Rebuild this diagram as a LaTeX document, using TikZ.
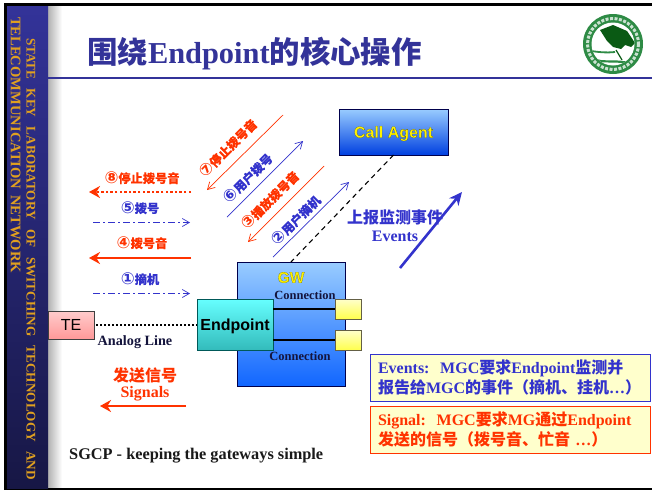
\documentclass[tikz,border=0pt]{standalone}
\usepackage{fontspec}
\setmainfont{Liberation Serif}
\setsansfont{Liberation Sans}
\newfontfamily\cjk{Noto Sans CJK SC}
\newfontfamily\circfont{DejaVu Sans}
\usetikzlibrary{arrows.meta}
\newcommand\zh[1]{{\cjk #1}}
\newcommand\lab[2]{{\circfont\fontsize{16.5}{14}\selectfont\raisebox{-0.8pt}{#1}}{\cjk\addfontfeature{FakeBold=0.15}#2}}
\newcommand\outl[1]{{\addfontfeature{FakeBold=0.15}\special{pdf:code 0.1 0.1 0 RG}#1}}
\newcommand\capmid[1]{\raisebox{-5.7pt}[6pt][6pt]{#1}}
\definecolor{bluetxt}{HTML}{3333CC}
\definecolor{redtxt}{HTML}{FF3300}
\definecolor{titleblue}{HTML}{333399}
\definecolor{sidegold}{HTML}{E0A020}
\definecolor{navytxt}{HTML}{14143C}
\definecolor{paleyellow}{HTML}{FFFFCC}
\definecolor{logogreen}{HTML}{2E8B45}
\definecolor{logodark}{HTML}{0A5A14}
\definecolor{skytop}{HTML}{99CCFF}
\definecolor{cabottom}{HTML}{0040E0}
\definecolor{gwbottom}{HTML}{1166FF}
\definecolor{eptop}{HTML}{66FFFF}
\definecolor{epbottom}{HTML}{33BBBB}
\tikzset{
  flatbox/.style={inner sep=0pt,outer sep=0pt,line width=0.9pt},
  lbl/.style={font=\bfseries\fontsize{12.2}{14}\selectfont,inner sep=0pt},
  redlbl/.style={lbl,text=redtxt},
  bluelbl/.style={lbl,text=bluetxt},
  thinred/.style={draw=redtxt,line width=0.7pt,-{Straight Barb[length=7pt,width=8pt]}},
  thinblue/.style={draw=bluetxt,line width=0.7pt,-{Straight Barb[length=7pt,width=8pt]}},
  dashblue/.style={thinblue,dash pattern=on 7pt off 3pt on 2pt off 3pt},
  thickred/.style={draw=redtxt,line width=2.2pt,-{Stealth[length=11pt,width=12pt]}},
  notebox/.style={flatbox,fill=paleyellow,line width=1pt,minimum width=280,minimum height=47,
    font=\bfseries\fontsize{16}{19.5}\selectfont,align=left,text width=264},
  portbox/.style={flatbox,draw=black!70!yellow,top color=paleyellow,bottom color=yellow!70!white,minimum width=26,minimum height=20},
  sidetxt/.style={rotate=-90,inner sep=0pt,text=sidegold},
  conn/.style={inner sep=0pt,text=navytxt,font=\bfseries\fontsize{12.5}{14}\selectfont},
}
\begin{document}
\begin{tikzpicture}[x=1pt,y=-1pt]
\useasboundingbox (0,0) rectangle (652,490);
\fill[white] (0,0) rectangle (652,490);
% frame
\node[flatbox,minimum width=14,minimum height=482,left color=black!30,right color=white] (shadow) at (55,247) {};
\fill[black] (4,3) rectangle (652,6);
\fill[black] (4,487.5) rectangle (652,490);
\fill[black] (4,3) rectangle (7,490);
\node[flatbox,minimum width=41,minimum height=482,top color=titleblue,bottom color=titleblue!45!black] (side) at (27.5,247) {};
\node[sidetxt,font=\bfseries\fontsize{13.2}{15}\selectfont] (sidea) at (31,259)
  {\hbox to 442pt{STATE\hfill KEY\hfill LABORATORY\hfill OF\hfill SWITCHING\hfill TECHNOLOGY\hfill AND}};
\node[sidetxt,font=\bfseries\fontsize{14.6}{15}\selectfont] (sideb) at (15.5,145)
  {\hbox to 256pt{TELECOMMUNICATION\hfill NETWORK}};
% title
\node[anchor=base west,inner sep=0pt,text=titleblue,font=\bfseries\fontsize{30.4}{34}\selectfont] (title) at (87,63)
  {\zh{围绕}Endpoint\zh{的核心操作}};
\draw[titleblue,line width=2.6pt] (48,78) -- (652,78);
% logo
\fill[logogreen] (613,44) circle (30);
\draw[white!75!logogreen,line width=3pt,dash pattern=on 3pt off 1.5pt] (613,44) circle (25.5);
\fill[white] (613,44) circle (21.5);
\begin{scope}
\clip (613,44) circle (21.5);
\fill[logodark] (600,30) -- (613,25) -- (627,31) -- (635,43) -- (631,47) -- (625,45) -- (621,49) -- (613,47) -- (607,41) -- cycle;
\draw[logogreen,line width=1.8pt] (591,51) .. controls (598,52) and (606,53) .. (615,52);
\draw[logogreen,line width=2.2pt] (591,55) .. controls (596,66) and (612,58) .. (632,64);
\draw[logodark,line width=1.2pt] (616,50) -- (622,60);
\end{scope}
% nodes
\node[flatbox,draw=black!70!blue,top color=skytop,bottom color=cabottom,minimum width=109,minimum height=46,
  text=yellow,font=\sffamily\bfseries\fontsize{16}{18}\selectfont] (ca) at (393.5,132) {\capmid{\outl{Call Agent}}};
\node[flatbox,draw=black!70!blue,top color=skytop,bottom color=gwbottom,minimum width=108,minimum height=124] (gw) at (291,324) {};
\node[inner sep=0pt,text=yellow,font=\sffamily\bfseries\fontsize{15.5}{18}\selectfont] (gwl) at (291,277.5) {\outl{GW}};
\node[conn] (c1) at (305,295) {Connection};
\node[conn] (c2) at (300,356) {Connection};
\node[portbox] (p1) at (348,309) {};
\node[portbox] (p2) at (348,340) {};
\node[flatbox,draw=teal!70!black,top color=eptop,bottom color=epbottom,minimum width=76,minimum height=51,
  font=\sffamily\bfseries\fontsize{16}{18}\selectfont] (ep) at (235,324.5) {\capmid{Endpoint}};
\draw[black,line width=1.4pt] (ep.east |- p1) -- (p1.west);
\draw[black,line width=1.4pt] (ep.east |- p2) -- (p2.west);
\node[flatbox,draw=black!75,top color=red!20!white,bottom color=red!40!white,minimum width=46,minimum height=28,
  font=\sffamily\fontsize{16}{18}\selectfont] (te) at (71,325) {TE};
\draw[black,line width=2pt,dash pattern=on 2pt off 2pt,shorten <=2pt] (te.east) -- (ep.west |- te.east);
\node[inner sep=0pt,text=navytxt,font=\bfseries\fontsize{14.2}{16}\selectfont] (al) at (135,342) {Analog Line};
\draw[black,line width=1.1pt,dash pattern=on 5pt off 4pt] (ca.south) -- (gw.north);
% left arrows
\coordinate (a8s) at (191,192); \coordinate (a8e) at (89,192);
\coordinate (a5s) at (93,222.5); \coordinate (a5e) at (190,222.5);
\coordinate (a4s) at (191,258); \coordinate (a4e) at (89,258);
\coordinate (a1s) at (93,293.5); \coordinate (a1e) at (190,293.5);
\draw[thickred,dash pattern=on 2.4pt off 2.2pt] (a8s) -- (a8e);
\draw[dashblue] (a5s) -- (a5e);
\draw[thickred] (a4s) -- (a4e);
\draw[dashblue] (a1s) -- (a1e);
\node[redlbl] (l8) at (142,178) {\lab{⑧}{停止拨号音}};
\node[bluelbl] (l5) at (140,208) {\lab{⑤}{拨号}};
\node[redlbl] (l4) at (142,243) {\lab{④}{拨号音}};
\node[bluelbl] (l1) at (140,279) {\lab{①}{摘机}};
% diagonal arrows
\coordinate (d7s) at (283,115); \coordinate (d7e) at (207,190);
\coordinate (d6s) at (227,217); \coordinate (d6e) at (303,141);
\coordinate (d3s) at (324,166); \coordinate (d3e) at (248,242);
\coordinate (d2s) at (273,257); \coordinate (d2e) at (349,182);
\draw[thinred] (d7s) -- (d7e);
\draw[thinblue] (d6s) -- (d6e);
\draw[thinred] (d3s) -- (d3e);
\draw[thinblue] (d2s) -- (d2e);
\node[redlbl,rotate=45] (l7) at (228,148) {\lab{⑦}{停止拨号音}};
\node[bluelbl,rotate=45] (l6) at (248,178) {\lab{⑥}{用户拨号}};
\node[redlbl,rotate=45] (l3) at (270,200) {\lab{③}{播放拨号音}};
\node[bluelbl,rotate=45] (l2) at (296,220) {\lab{②}{用户摘机}};
% events
\coordinate (evs) at (400,268); \coordinate (eve) at (462,192);
\draw[draw=bluetxt,line width=2.6pt,-{Stealth[length=13pt,width=12pt]}] (evs) -- (eve);
\node[inner sep=0pt,text=bluetxt,font=\bfseries\fontsize{16}{18}\selectfont] (ev1) at (395,217) {\zh{上报监测事件}};
\node[inner sep=0pt,text=bluetxt,font=\bfseries\fontsize{16}{18}\selectfont] (ev2) at (395,236) {Events};
% signals
\node[inner sep=0pt,text=redtxt,font=\bfseries\fontsize{16}{18}\selectfont] (s1) at (145,375) {\zh{发送信号}};
\node[inner sep=0pt,text=redtxt,font=\bfseries\fontsize{16}{18}\selectfont] (s2) at (145,394) {Signals};
\coordinate (sgs) at (186,406); \coordinate (sge) at (100,406);
\draw[thickred] (sgs) -- (sge);
\node[anchor=west,inner sep=0pt,text=black!90,font=\bfseries\fontsize{16.3}{18}\selectfont] (sgcp) at (69,456) {SGCP - keeping the gateways simple};
% notes
\node[notebox,draw=bluetxt,text=bluetxt] (n1) at (510,377.5)
  {Events:\ \ MGC\zh{要求}Endpoint\zh{监测并}\\\zh{报告给}MGC\zh{的事件（摘机、挂机}…\zh{）}};
\node[notebox,draw=redtxt,text=redtxt] (n2) at (510,429.5)
  {Signal:\ \ MGC\zh{要求}MG\zh{通过}Endpoint\\\zh{发送的信号（拨号音、忙音} …\zh{）}};
\end{tikzpicture}
\end{document}
